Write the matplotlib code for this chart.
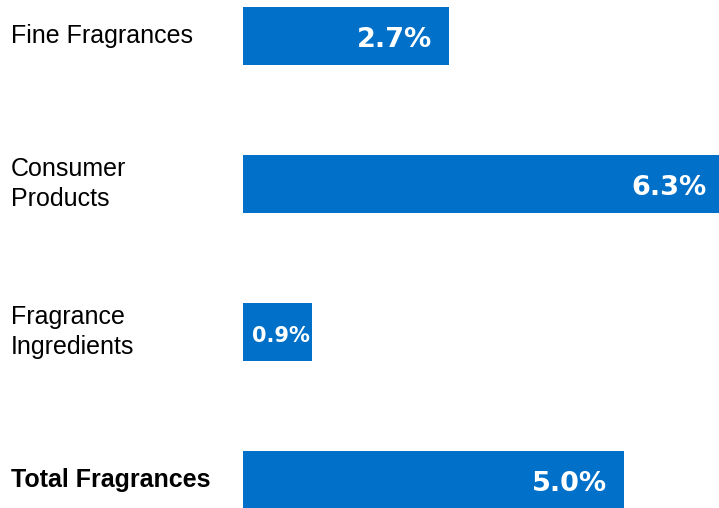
import matplotlib.pyplot as plt
import matplotlib.transforms as mtransforms

categories = ["Fine Fragrances", "Consumer\nProducts", "Fragrance\nIngredients", "Total Fragrances"]
growth = [2.7, 6.3, 0.9, 5.0]
value_labels = ["2.7%", "6.3%", "0.9%", "5.0%"]

bar_color = "#0070C8"

fig = plt.figure(figsize=(7.19, 5.08), dpi=100)
ax = fig.add_axes([243 / 719, 0, 1 - 243 / 719, 1])

pos = list(range(len(categories)))
ax.barh(pos, growth, height=58 / 148, color=bar_color)

ax.set_xlim(0, 6.25)
ax.set_ylim(3 + 28 / 148, -36 / 148)
ax.axis("off")

# category names sit in figure coords on the left, aligned with each bar
trans = mtransforms.blended_transform_factory(fig.transFigure, ax.transData)
for i, name in enumerate(categories):
    bold = i == len(categories) - 1
    ax.text(11 / 719, i + 0.0, name, transform=trans, ha="left", va="center",
            fontsize=18, family="Liberation Sans",
            fontweight="bold" if bold else "normal", color="black",
            linespacing=1.3)

for i, (v, lab) in enumerate(zip(growth, value_labels)):
    small = v < 1
    ax.annotate(lab, (v, i + 0.025), xytext=(-1 if small else -12, 0),
                textcoords="offset points", ha="right", va="center",
                fontsize=15 if small else 19.5, fontweight="bold",
                family="DejaVu Sans", color="white", annotation_clip=False)

fig.savefig("out.png", dpi=100)
